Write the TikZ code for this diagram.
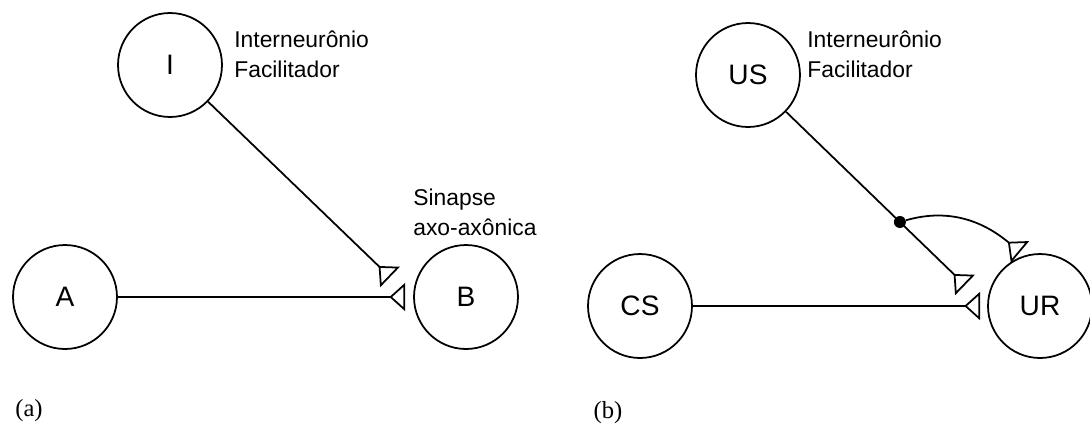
\documentclass[tikz,border=0pt]{standalone}
\usepackage{fontspec}
\setmainfont{Liberation Sans}
\newfontfamily\tagfont{Liberation Serif}
\usetikzlibrary{arrows.meta,calc}

\begin{document}
\begin{tikzpicture}[x=0.02cm,y=-0.02cm,
    note/.style={align=left,anchor=north west,inner sep=0pt,font=\fontsize{13}{17}\selectfont},
    tag/.style={inner sep=0pt,font=\tagfont\fontsize{14}{16}\selectfont}]
  \useasboundingbox (0,0) rectangle (1090,427);
  \begin{scope}[every node/.style={circle,line width=1pt,draw,inner sep=0pt,minimum size=2.08cm,font=\fontsize{16}{19}\selectfont}]
    \node (I) at (170,65) {I};
    \node (A) at (65,297) {A};
    \node (B) at (466,297) {B};
    \node (US) at (748,75) {US};
    \node (CS) at (640,306) {CS};
    \node (UR) at (1040,306) {UR};
  \end{scope}
  \coordinate (IB) at (390,277);
  \coordinate (USUR) at (965,285);
  \coordinate (FUR) at (1020,252);
  \node[circle,fill,inner sep=0pt,minimum size=0.24cm] (F) at ($(US)!0.7!(USUR)$) {};
  \begin{scope}[every edge/.style={draw,line width=1pt,-{Triangle[open,reversed,length=9pt,width=16pt]}}]
    \path (I) edge (IB);
    \path (A) edge[shorten >=4.5pt] (B);
    \path (US) edge (USUR);
    \path (CS) edge[shorten >=4pt] (UR);
    \path (F) edge[out=16,in=140] (FUR);
  \end{scope}
  \node[note] (nI) at (234,31) {Interneurônio\\Facilitador};
  \node[note] (nB) at (413,189) {Sinapse\\axo-axônica};
  \node[note] (nUS) at (807,31) {Interneurônio\\Facilitador};
  \node[tag] (ta) at (29,411) {(a)};
  \node[tag] (tb) at (608,413) {(b)};
\end{tikzpicture}
\end{document}
